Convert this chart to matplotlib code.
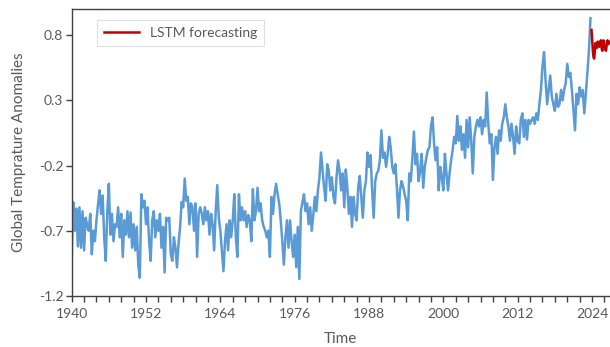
import numpy as np
import matplotlib
matplotlib.use("Agg")
import matplotlib.pyplot as plt
from matplotlib.ticker import MultipleLocator

plt.rcParams["font.family"] = ["Lato", "DejaVu Sans"]

# quarterly global temperature anomalies, one list per stretch
anom_1940_1954 = [-0.93, -0.48, -0.70, -0.53, -0.82, -0.52, -0.83, -0.55, -0.85, -0.60,
                  -0.66, -0.70, -0.57, -0.88, -0.70, -0.78, -0.62, -0.50, -0.39, -0.57,
                  -0.43, -0.75, -0.93, -0.55, -0.34, -0.73, -0.57, -0.78, -0.65, -0.67,
                  -0.52, -0.75, -0.57, -0.90, -0.62, -0.73, -0.55, -0.75, -0.56, -0.83,
                  -0.65, -0.85, -0.67, -0.96, -1.06, -0.42, -0.52, -0.47, -0.65, -0.52,
                  -0.78, -0.93, -0.62, -0.55, -0.75, -0.62, -0.70]
anom_1954_1968 = [-0.57, -0.83, -0.67, -1.02, -0.60, -0.62, -0.60, -0.88, -0.93, -0.75,
                  -0.83, -0.98, -0.80, -0.67, -0.48, -0.52, -0.30, -0.47, -0.44, -0.65,
                  -0.49, -0.52, -0.70, -0.49, -0.90, -0.57, -0.52, -0.57, -0.65, -0.52,
                  -0.62, -0.55, -0.73, -0.57, -0.65, -0.85, -0.55, -0.35, -0.60, -0.70,
                  -0.85, -1.01, -0.78, -0.65, -0.85, -0.62, -0.75, -0.62, -0.42, -0.75,
                  -0.90, -0.42, -0.62, -0.52, -0.62, -0.55, -0.67, -0.58]
anom_1968_1983 = [-0.62, -0.78, -0.38, -0.62, -0.55, -0.37, -0.55, -0.49, -0.62, -0.67,
                  -0.70, -0.75, -0.70, -0.90, -0.44, -0.57, -0.42, -0.34, -0.42, -0.49,
                  -0.62, -0.78, -0.96, -0.75, -0.62, -0.83, -0.62, -0.78, -0.90, -0.73,
                  -0.98, -0.67, -1.07, -0.55, -0.48, -0.42, -0.55, -0.49, -0.65, -0.52,
                  -0.70, -0.58, -0.44, -0.55, -0.39, -0.29, -0.10, -0.24, -0.37, -0.47,
                  -0.19, -0.24, -0.39, -0.29, -0.44, -0.49, -0.29, -0.16]
anom_1983_1997 = [-0.24, -0.39, -0.26, -0.52, -0.23, -0.37, -0.57, -0.44, -0.67, -0.44,
                  -0.57, -0.62, -0.37, -0.28, -0.44, -0.60, -0.39, -0.32, -0.10, -0.21,
                  -0.12, -0.39, -0.60, -0.32, -0.26, -0.24, -0.16, 0.07, -0.14, -0.10,
                  -0.21, -0.12, 0.02, -0.06, -0.21, -0.26, -0.19, -0.37, -0.60, -0.39,
                  -0.32, -0.36, -0.42, -0.47, -0.62, -0.26, -0.32, -0.14, 0.06, -0.19,
                  -0.11, -0.32, -0.24, -0.11, -0.37, -0.21, -0.14, -0.08]
anom_1997_2012 = [-0.06, 0.10, 0.17, -0.03, -0.16, -0.06, -0.39, -0.21, -0.29, -0.39,
                  -0.11, -0.26, -0.39, -0.26, -0.16, -0.08, 0.02, -0.03, 0.18, -0.01,
                  0.10, -0.08, 0.04, -0.14, 0.15, -0.06, 0.17, -0.01, -0.26, 0.02,
                  0.10, 0.15, 0.10, 0.17, 0.04, 0.15, 0.10, 0.36, 0.12, -0.03,
                  0.04, -0.31, -0.06, 0.02, -0.11, 0.07, -0.01, 0.12, 0.17, 0.27,
                  0.17, 0.10, -0.01, 0.12, 0.02, -0.11, 0.10, -0.01]
anom_2012_2024 = [-0.03, 0.15, 0.20, 0.02, 0.15, 0.00, 0.15, 0.12, 0.15, 0.17,
                  0.12, 0.20, 0.15, 0.27, 0.38, 0.56, 0.67, 0.45, 0.27, 0.38,
                  0.49, 0.33, 0.27, 0.22, 0.35, 0.25, 0.27, 0.38, 0.30, 0.38,
                  0.43, 0.58, 0.48, 0.51, 0.38, 0.22, 0.07, 0.35, 0.27, 0.40,
                  0.33, 0.38, 0.20, 0.35, 0.51, 0.68, 0.93]

# monthly LSTM forecast
lstm = [0.84, 0.78, 0.72, 0.66, 0.63, 0.62, 0.66, 0.72, 0.74, 0.72,
        0.70, 0.72, 0.75, 0.74, 0.72, 0.71, 0.73, 0.75, 0.76, 0.73,
        0.69, 0.68, 0.72, 0.76, 0.74, 0.71, 0.71, 0.69, 0.68, 0.71,
        0.75, 0.76, 0.74, 0.73, 0.75, 0.75]

observed = np.array(anom_1940_1954 + anom_1954_1968 + anom_1968_1983
                    + anom_1983_1997 + anom_1997_2012 + anom_2012_2024)
obs_time = 1940 + np.arange(len(observed)) * 0.25
lstm_time = 2024 - 1 / 12 + np.arange(len(lstm)) / 12

grey = "#595959"

fig = plt.figure(figsize=(6.1, 3.47), dpi=100)
ax = fig.add_axes([0.1175, 0.147, 0.8825, 0.827])

ax.plot(obs_time, observed, color="#5B9BD5", lw=1.8)
ax.plot(lstm_time, lstm, color="#C00000", lw=1.8, label="LSTM forecasting")

ax.set_xlim(1940, 2026.9)
ax.set_ylim(-1.2, 1.0)
ax.set_xticks(np.arange(1940, 2025, 12))
ax.xaxis.set_minor_locator(MultipleLocator(2))
ax.set_yticks([-1.2, -0.7, -0.2, 0.3, 0.8])
ax.set_yticklabels(["-1.2", "-0.7", "-0.2", "0.3", "0.8"])

for s in ["left", "bottom", "top"]:
    ax.spines[s].set_color("#404040")
    ax.spines[s].set_linewidth(1.0)
ax.spines["right"].set_visible(False)

ax.tick_params(axis="x", which="both", direction="out", length=4, width=1,
               color="#404040", labelsize=10, labelcolor=grey, pad=5)
ax.tick_params(axis="y", direction="out", length=4, width=1,
               color="#404040", labelsize=10, labelcolor=grey, pad=2)

ax.set_xlabel("Time", fontsize=11, color=grey)
ax.set_ylabel("Global Temprature Anomalies", fontsize=11, color=grey)
ax.xaxis.set_label_coords(0.5, -0.125)
ax.yaxis.set_label_coords(-0.085, 0.5)

leg = ax.legend(loc="upper left", bbox_to_anchor=(0.047, 0.962), borderaxespad=0,
                fontsize=10, handlelength=2.5, fancybox=False, labelcolor=grey,
                borderpad=0.5)
leg.get_frame().set_edgecolor("#d9d9d9")
leg.get_frame().set_linewidth(0.8)

fig.savefig("out.png", dpi=100)
